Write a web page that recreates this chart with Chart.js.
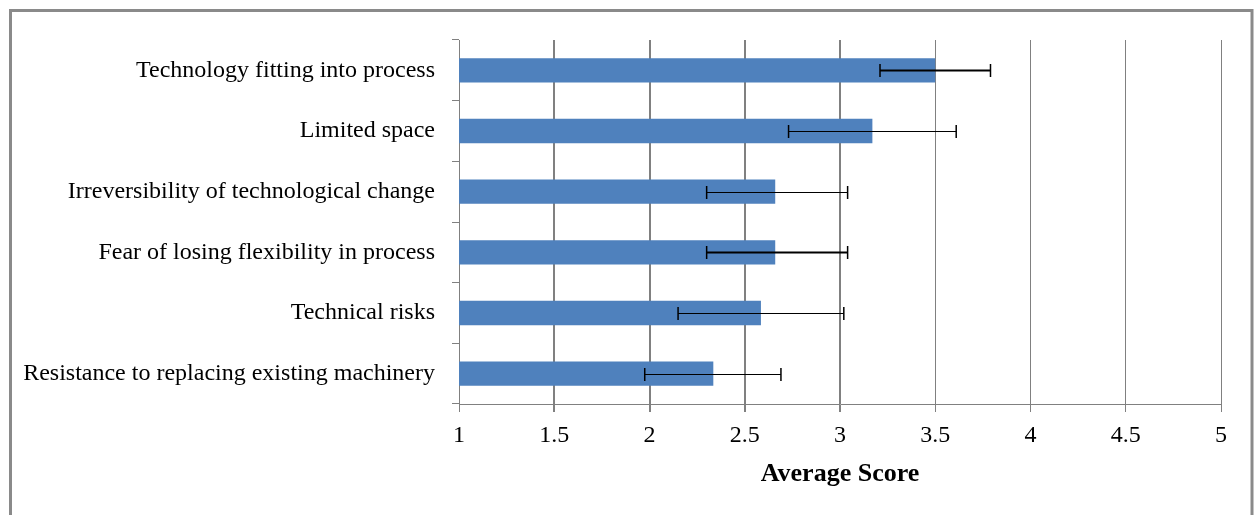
<!DOCTYPE html>
<html>
<head>
<meta charset="utf-8">
<title>Average Score</title>
<script src="https://cdn.jsdelivr.net/npm/chart.js@4.4.1/dist/chart.umd.min.js"></script>
<style>
    html, body { margin: 0; padding: 0; background: #ffffff; }
    #wrap { width: 1257px; height: 515px; }
</style>
</head>
<body>
<div id="wrap"><canvas id="barrierChart" width="1257" height="515"></canvas></div>
<script>
// Data
const categories = [
    "Technology fitting into process",
    "Limited space",
    "Irreversibility of technological change",
    "Fear of losing flexibility in process",
    "Technical risks",
    "Resistance to replacing existing machinery"
];
const averageScores = [3.50, 3.17, 2.66, 2.66, 2.585, 2.335];
const errorLow = [3.21, 2.73, 2.30, 2.30, 2.15, 1.975];
const errorHigh = [3.79, 3.61, 3.04, 3.04, 3.02, 2.69];
const xTickLabels = ["1", "1.5", "2", "2.5", "3", "3.5", "4", "4.5", "5"];

const serif = "'Liberation Serif', 'Times New Roman', serif";

// Outer frame round the whole chart
const framePlugin = {
    id: 'frame',
    beforeDraw(chart) {
        const ctx = chart.ctx;
        ctx.save();
        ctx.strokeStyle = '#8a8a8a';
        ctx.lineWidth = 3;
        ctx.strokeRect(10.5, 10.5, 1241.5, 600);
        ctx.restore();
    }
};

// Error bars drawn through the x scale and the bar elements
const errorBarPlugin = {
    id: 'errorBars',
    afterDatasetsDraw(chart, args, opts) {
        const ctx = chart.ctx;
        const xScale = chart.scales.x;
        const bars = chart.getDatasetMeta(0).data;
        ctx.save();
        ctx.strokeStyle = '#000000';
        bars.forEach((bar, i) => {
            const y = Math.round(bar.y) + 0.5;
            const x1 = xScale.getPixelForValue(errorLow[i]);
            const x2 = xScale.getPixelForValue(errorHigh[i]);
            ctx.lineWidth = opts.widths[i];
            ctx.beginPath();
            ctx.moveTo(x1, y);
            ctx.lineTo(x2, y);
            ctx.stroke();
            ctx.lineWidth = 1.5;
            ctx.beginPath();
            ctx.moveTo(x1, y - opts.cap);
            ctx.lineTo(x1, y + opts.cap);
            ctx.moveTo(x2, y - opts.cap);
            ctx.lineTo(x2, y + opts.cap);
            ctx.stroke();
        });
        ctx.restore();
    }
};

const ctx = document.getElementById('barrierChart').getContext('2d');
new Chart(ctx, {
    type: 'bar',
    data: {
        labels: categories,
        datasets: [{
            label: 'Average Score',
            data: averageScores,
            backgroundColor: '#4f81bd',
            borderWidth: 0,
            barPercentage: 0.4,
            categoryPercentage: 1.0
        }]
    },
    options: {
        indexAxis: 'y',
        responsive: false,
        animation: false,
        layout: {
            padding: { top: 40, right: 36, left: 0, bottom: 0 }
        },
        plugins: {
            legend: { display: false },
            tooltip: { enabled: false },
            errorBars: { widths: [2, 1, 1, 2, 1, 1], cap: 6.5 }
        },
        scales: {
            x: {
                min: 1,
                max: 5,
                ticks: {
                    stepSize: 0.5,
                    color: '#000000',
                    padding: 9,
                    font: { family: serif, size: 24 },
                    callback: (value, index) => xTickLabels[index]
                },
                grid: {
                    color: '#808080',
                    // the inner lines look heavier in the picture
                    lineWidth: c => (c.index >= 1 && c.index <= 4) ? 2 : 1,
                    tickLength: 8
                },
                border: { color: '#808080', width: 1 },
                title: {
                    display: true,
                    text: 'Average Score',
                    color: '#000000',
                    padding: { top: 0, bottom: 25 },
                    font: { family: serif, size: 26, weight: 'bold' }
                },
                afterFit(scale) {
                    scale.height = 111;
                }
            },
            y: {
                ticks: {
                    color: '#000000',
                    padding: 17,
                    font: { family: serif, size: 24 }
                },
                grid: {
                    drawOnChartArea: false,
                    color: '#808080',
                    tickLength: 7,
                    offset: true
                },
                border: { color: '#808080', width: 1 },
                afterFit(scale) {
                    scale.width = 459;
                }
            }
        }
    },
    plugins: [framePlugin, errorBarPlugin]
});
</script>
</body>
</html>
